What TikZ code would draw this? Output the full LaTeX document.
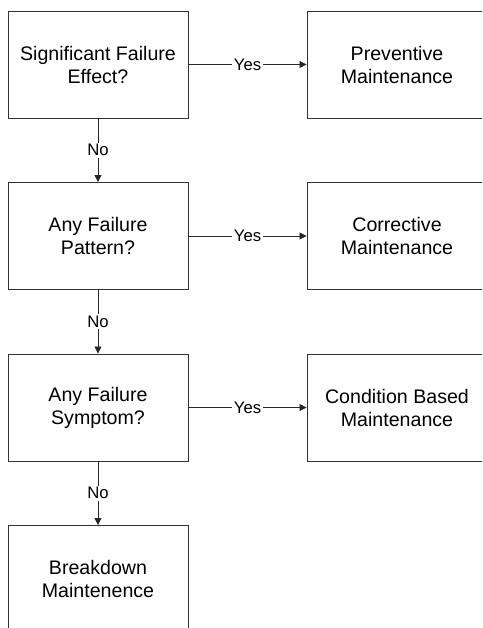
\documentclass[tikz,border=0pt]{standalone}
\usepackage{fontspec}
\setmainfont{Liberation Sans}
\usetikzlibrary{arrows.meta}
\begin{document}
\begin{tikzpicture}[x=1pt,y=-1pt,
  box/.style={draw=black!80, line width=0.9pt, minimum width=180pt, minimum height=107pt, inner sep=0pt, align=center, font=\fontsize{19.6}{23}\selectfont},
  conn/.style={draw=black!85, line width=0.8pt, -{Triangle[length=7pt,width=7pt]}},
  lbl/.style={fill=white, inner sep=1.5pt, font=\fontsize{16.7}{19}\selectfont}]
\useasboundingbox (0,0) rectangle (482,628);
\clip (0,0) rectangle (482,628);
\node[box] (q1) at (98,64.5) {Significant Failure\\Effect?};
\node[box] (q2) at (98,236) {Any Failure\\Pattern?};
\node[box] (q3) at (98,407.5) {Any Failure\\Symptom?};
\node[box] (b4) at (98,579) {Breakdown\\Maintenence};
\node[box] (a1) at (397,64.5) {Preventive\\Maintenance};
\node[box] (a2) at (397,236) {Corrective\\Maintenance};
\node[box] (a3) at (397,407.5) {Condition Based\\Maintenance};
\draw[conn] (q1) -- node[lbl]{Yes} (a1);
\draw[conn] (q2) -- node[lbl]{Yes} (a2);
\draw[conn] (q3) -- node[lbl]{Yes} (a3);
\draw[conn] (q1) -- node[lbl]{No} (q2);
\draw[conn] (q2) -- node[lbl]{No} (q3);
\draw[conn] (q3) -- node[lbl]{No} (b4);
\end{tikzpicture}
\end{document}
